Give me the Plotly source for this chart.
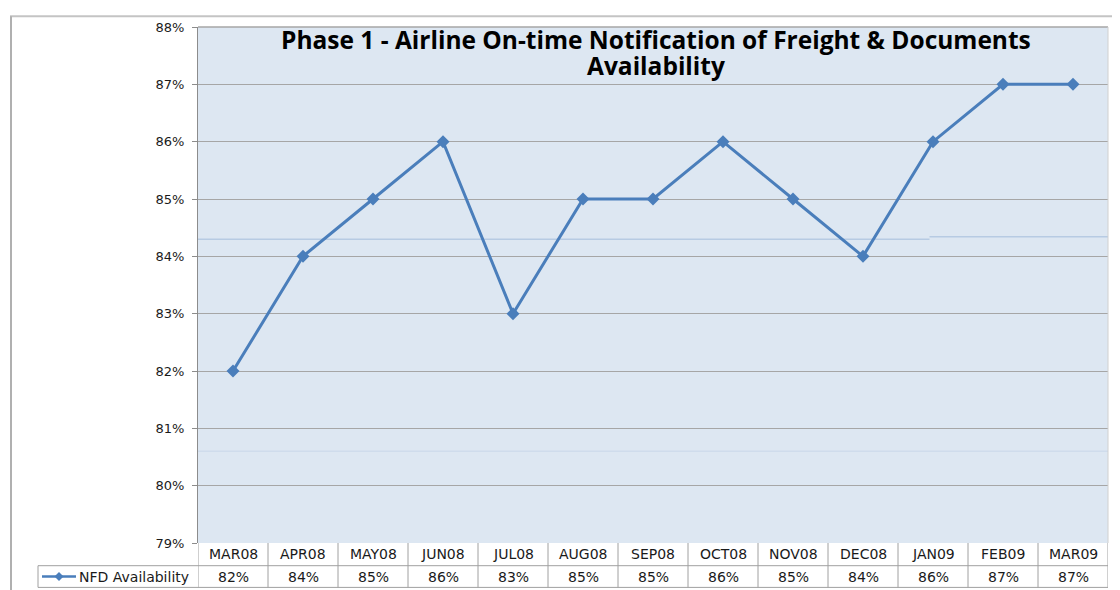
import plotly.graph_objects as go

months = ["MAR08", "APR08", "MAY08", "JUN08", "JUL08", "AUG08", "SEP08",
          "OCT08", "NOV08", "DEC08", "JAN09", "FEB09", "MAR09"]
nfd = [82, 84, 85, 86, 83, 85, 85, 86, 85, 84, 86, 87, 87]
series_name = "NFD Availability"
title_lines = ["Phase 1 - Airline On-time Notification of Freight & Documents",
               "Availability"]
y_ticks = list(range(79, 89))

LINE = "#4a7ebb"
GRID = "#a6a6a6"
BORDER = "#a0a0a0"

# page has an 8px body margin; figure is sized so it ends at the window edge
W, H = 1112, 582
ML, MR, MT, MB = 190, 12, 12, 47
PW, PH = W - ML - MR, H - MT - MB  # 910 x 523

fig = go.Figure()
fig.add_trace(go.Scatter(
    x=list(range(len(months))), y=nfd, mode="lines+markers",
    line=dict(color=LINE, width=3),
    marker=dict(symbol="diamond", size=10, color=LINE),
    showlegend=False, cliponaxis=False,
))

n = len(months)
shapes = []
annotations = []
# faint artefact lines in plot background
shapes.append(dict(type="line", xref="x", yref="y", x0=-0.5, x1=9.95, y0=84.3, y1=84.3,
                   line=dict(color="#b7cbe3", width=1.5), layer="below"))
shapes.append(dict(type="line", xref="x", yref="y", x0=9.95, x1=n - 0.5, y0=84.34, y1=84.34,
                   line=dict(color="#b7cbe3", width=1.5), layer="below"))
shapes.append(dict(type="line", xref="x", yref="y", x0=-0.5, x1=n - 0.5, y0=80.6, y1=80.6,
                   line=dict(color="#cfdcec", width=1.5), layer="below"))

# data table below the plot
row1_top, row1_bot, row2_bot = 0.0, -23 / PH, -45 / PH
mid2 = (row1_bot + row2_bot) / 2
for i in range(n + 1):
    shapes.append(dict(type="line", xref="x", yref="paper", x0=i - 0.5, x1=i - 0.5,
                       y0=row2_bot, y1=row1_top, line=dict(color=BORDER, width=1)))
shapes.append(dict(type="line", xref="x", yref="paper", x0=-0.5, x1=n - 0.5,
                   y0=row1_bot, y1=row1_bot, line=dict(color=BORDER, width=1)))
shapes.append(dict(type="line", xref="x", yref="paper", x0=-0.5, x1=n - 0.5,
                   y0=row2_bot, y1=row2_bot, line=dict(color=BORDER, width=1)))
# legend cell
lx = -160 / PW
shapes.append(dict(type="line", xref="paper", yref="paper", x0=lx, x1=0,
                   y0=row1_bot, y1=row1_bot, line=dict(color=BORDER, width=1)))
shapes.append(dict(type="line", xref="paper", yref="paper", x0=lx, x1=0,
                   y0=row2_bot, y1=row2_bot, line=dict(color=BORDER, width=1)))
shapes.append(dict(type="line", xref="paper", yref="paper", x0=lx, x1=lx,
                   y0=row2_bot, y1=row1_bot, line=dict(color=BORDER, width=1)))
# legend key
shapes.append(dict(type="line", xref="paper", yref="paper", x0=-156 / PW, x1=-122 / PW,
                   y0=mid2, y1=mid2, line=dict(color=LINE, width=2.5)))
shapes.append(dict(type="path", xref="paper", yref="paper",
                   path="M {a},{m} L {b},{t} L {c},{m} L {b},{bt} Z".format(
                       a=-143.5 / PW, b=-139 / PW, c=-134.5 / PW,
                       m=mid2, t=mid2 + 4.5 / PH, bt=mid2 - 4.5 / PH),
                   fillcolor=LINE, line=dict(color=LINE, width=0)))
# outer chart frame lines
shapes.append(dict(type="line", xref="paper", yref="paper", x0=-188 / PW, x1=(PW + 12) / PW,
                   y0=(PH + 11) / PH, y1=(PH + 11) / PH,
                   line=dict(color="#c4c4c4", width=2)))
shapes.append(dict(type="line", xref="paper", yref="paper", x0=-187 / PW, x1=-187 / PW,
                   y0=-50 / PH, y1=(PH + 11) / PH,
                   line=dict(color="#b0b0b0", width=2)))

tfont = dict(family="DejaVu Sans", size=14, color="#1a1a1a")
for i, (m, v) in enumerate(zip(months, nfd)):
    annotations.append(dict(x=i, y=(row1_top + row1_bot) / 2, xref="x", yref="paper",
                            text=m, showarrow=False, font=tfont, yanchor="middle"))
    annotations.append(dict(x=i, y=mid2, xref="x", yref="paper",
                            text=f"{v}%", showarrow=False, font=tfont, yanchor="middle"))
annotations.append(dict(x=-117 / PW, y=mid2, xref="paper", yref="paper",
                        text=series_name, showarrow=False, font=tfont,
                        xanchor="left", yanchor="middle", xshift=-4))
# chart title (two lines, 26px apart)
title_font = dict(family="Open Sans", size=24.5, color="#000000", weight="bold")
for k, line_text in enumerate(title_lines):
    annotations.append(dict(x=(656 - 198) / PW, y=1 - (13 + 26 * k) / PH,
                            xref="paper", yref="paper", text=line_text, showarrow=False,
                            xanchor="center", yanchor="middle", font=title_font))

fig.update_layout(
    width=W, height=H,
    margin=dict(l=ML, r=MR, t=MT, b=MB),
    paper_bgcolor="white",
    plot_bgcolor="#dde7f2",
    xaxis=dict(range=[-0.5, n - 0.5], showticklabels=False, showgrid=False,
               zeroline=False, showline=False, ticks=""),
    yaxis=dict(range=[79, 88], tickvals=y_ticks,
               ticktext=[f"{t}%" for t in y_ticks],
               showgrid=True, gridcolor=GRID, gridwidth=1, zeroline=False,
               showline=True, linecolor="#8c8c8c", linewidth=1,
               ticks="outside", ticklen=5, tickcolor="#8c8c8c", ticklabelstandoff=5,
               tickfont=dict(family="DejaVu Sans", size=13, color="#1a1a1a")),
    shapes=shapes,
    annotations=annotations,
)
fig.add_shape(type="line", xref="paper", yref="paper", x0=0, x1=1, y0=1, y1=1,
              line=dict(color="#a6a6a6", width=1.5))
fig.add_shape(type="line", xref="paper", yref="paper", x0=1, x1=1, y0=0, y1=1,
              line=dict(color="#d0d0d0", width=1))
fig.write_html("out.html")
